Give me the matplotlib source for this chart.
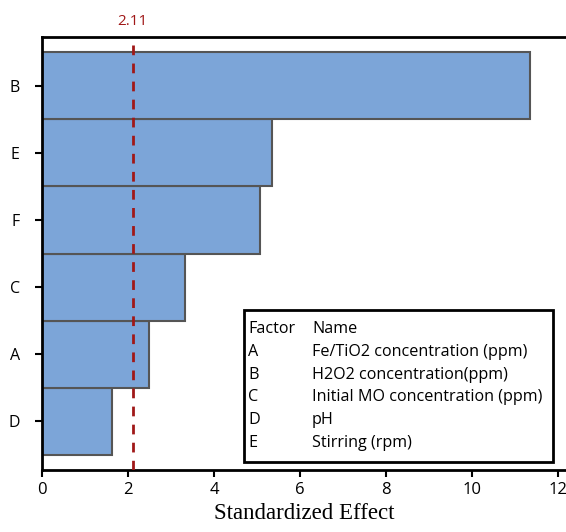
import matplotlib
matplotlib.use("Agg")
import matplotlib.pyplot as plt

factors = ["D", "A", "C", "F", "E", "B"]
effects = [1.63, 2.49, 3.33, 5.07, 5.35, 11.35]
threshold = 2.11
legend_factors = ["A", "B", "C", "D", "E"]
legend_names = ["Fe/TiO2 concentration (ppm)", "H2O2 concentration(ppm)",
                "Initial MO concentration (ppm)", "pH", "Stirring (rpm)"]
xticks = [0, 2, 4, 6, 8, 10, 12]

W, H = 566, 532
fig = plt.figure(figsize=(W/100, H/100), dpi=100)
ax = fig.add_axes([42/W, 1-470/H, 1-42/W, (470-37)/H])

ypos = list(range(len(factors)))
ax.barh(ypos, effects, height=1.0, color="#7CA5D8", edgecolor="#555555", linewidth=1.5)
ax.axvline(threshold, color="#A01818", linestyle=(0, (3.5, 3)), linewidth=2, zorder=3)
ax.text(threshold, 5.73 + 0.12, "2.11", color="#A01818", ha="center", va="bottom",
        fontsize=11, family="Open Sans", transform=ax.transData)

ax.set_xlim(0, (W - 42) / 43)
ax.set_ylim(-0.73, 5.73)
ax.set_xticks(xticks)
ax.set_xticklabels([str(t) for t in xticks], fontsize=12, family="Open Sans")
ax.set_yticks(ypos)
ax.set_yticklabels(factors, fontsize=11.5, family="Open Sans")
ax.tick_params(axis="both", direction="out", length=5, width=1.5)
ax.tick_params(axis="y", pad=11)
for s in ["left", "top", "bottom"]:
    ax.spines[s].set_linewidth(2)
ax.spines["right"].set_visible(False)
ax.set_xlabel("Standardized Effect", family="Liberation Serif", fontsize=16.5, labelpad=4)

# legend table box
from matplotlib.patches import Rectangle
bx0, by0, bx1, by1 = 244/W, 1-462/H, 553/W, 1-310/H
fig.patches.append(Rectangle((bx0, by0), bx1-bx0, by1-by0, transform=fig.transFigure,
                             fill=True, facecolor="white", edgecolor="black", linewidth=2, zorder=5))
rows = [("Factor", "Name")] + list(zip(legend_factors, legend_names))
for i, (f, n) in enumerate(rows):
    y = 1 - (329 + i*22.8)/H
    fig.text(248/W, y, f, fontsize=11.6, family="Open Sans", va="center", zorder=6)
    fig.text(312/W, y, n, fontsize=11.6, family="Open Sans", va="center", zorder=6)

fig.savefig("out.png", dpi=100)
